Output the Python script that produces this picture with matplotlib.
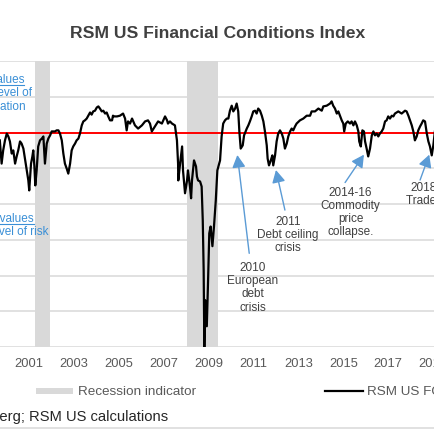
import matplotlib
matplotlib.use("Agg")
import matplotlib.pyplot as plt
from matplotlib.lines import Line2D
from matplotlib.patches import Rectangle

plt.rcParams["font.family"] = ["Liberation Sans", "DejaVu Sans"]

# ---------------------------------------------------------------------------
# Data: RSM US FCI, decimal year vs index value
# ---------------------------------------------------------------------------

fci_years = [
    1999.70, 1999.78, 1999.85, 1999.93, 2000.01, 2000.08, 2000.15, 2000.23, 2000.30, 2000.38,
    2000.45, 2000.52, 2000.60, 2000.67, 2000.75, 2000.82, 2000.90, 2000.97, 2001.01, 2001.09,
    2001.15, 2001.19, 2001.24, 2001.28, 2001.34, 2001.41, 2001.49, 2001.57, 2001.64, 2001.71,
    2001.79, 2001.86, 2001.94, 2002.01, 2002.08, 2002.16, 2002.23, 2002.31, 2002.38, 2002.46,
    2002.53, 2002.60, 2002.68, 2002.75, 2002.83, 2002.90, 2002.97, 2003.05, 2003.12, 2003.20,
    2003.27, 2003.35, 2003.42, 2003.49, 2003.57, 2003.64, 2003.72, 2003.79, 2003.86, 2003.94,
    2004.02, 2004.09, 2004.16, 2004.24, 2004.31, 2004.39, 2004.46, 2004.53, 2004.61,
    2004.70, 2004.74, 2004.80, 2004.92, 2005.05, 2005.19, 2005.28, 2005.35, 2005.41, 2005.50,
    2005.59, 2005.72, 2005.86, 2006.03, 2006.17, 2006.30, 2006.39, 2006.47, 2006.61, 2006.75,
    2006.92, 2007.06, 2007.15, 2007.19, 2007.28, 2007.37, 2007.50, 2007.59, 2007.64, 2007.65,
    2007.73, 2007.82, 2007.86, 2007.95, 2008.04, 2008.08, 2008.17, 2008.22, 2008.26, 2008.35,
    2008.44, 2008.48, 2008.53, 2008.62, 2008.69, 2008.74, 2008.78, 2008.81, 2008.85, 2008.92,
    2008.97, 2009.03, 2009.09, 2009.17, 2009.24, 2009.32, 2009.39, 2009.51, 2009.58, 2009.65,
    2009.73, 2009.81, 2009.88, 2009.95, 2010.03, 2010.10, 2010.18, 2010.25, 2010.32, 2010.37,
    2010.43, 2010.52, 2010.58, 2010.70, 2010.77, 2010.84, 2010.92, 2010.99, 2011.07, 2011.14,
    2011.21, 2011.29, 2011.37, 2011.44, 2011.51, 2011.59, 2011.63, 2011.69, 2011.77, 2011.84,
    2011.88, 2011.96, 2012.03, 2012.10, 2012.18, 2012.26, 2012.33, 2012.40, 2012.48, 2012.55,
    2012.63, 2012.70, 2012.77, 2012.85, 2012.92, 2013.07, 2013.22, 2013.37, 2013.52, 2013.59,
    2013.74, 2013.89, 2014.04, 2014.11, 2014.26, 2014.41, 2014.48, 2014.55, 2014.63, 2014.71,
    2014.78, 2014.85, 2014.93, 2015.00, 2015.04, 2015.11, 2015.20, 2015.30, 2015.37, 2015.45,
    2015.52, 2015.60, 2015.67, 2015.71, 2015.78, 2015.85, 2015.92, 2015.97, 2016.04, 2016.11,
    2016.19, 2016.27, 2016.34, 2016.41, 2016.49, 2016.56, 2016.63, 2016.71, 2016.78, 2016.86,
    2016.93, 2017.00, 2017.08, 2017.16, 2017.23, 2017.30, 2017.45, 2017.60, 2017.75, 2017.82,
    2017.90, 2017.97, 2018.05, 2018.12, 2018.19, 2018.27, 2018.34, 2018.42, 2018.49, 2018.56,
    2018.64, 2018.72, 2018.79, 2018.86, 2018.94, 2019.01, 2019.08,
]

fci_values = [
    -0.22, -0.87, -0.50, -0.22, -0.03, -0.11, -0.25, -0.59, -0.50, -0.87,
    -0.67, -0.50, -0.25, -0.31, -0.45, -0.73, -1.06, -1.34, -1.62, -0.87,
    -0.67, -0.50, -0.95, -1.48, -1.06, -0.39, -0.22, -0.17, -0.11, -0.87,
    -0.31, -0.17, -0.08, 0.03, 0.03, 0.03, 0.06, 0.06, -0.03, -0.22,
    -0.59, -0.87, -1.01, -1.15, -0.87, -0.50, -0.39, -0.31, -0.22, -0.17,
    -0.03, 0.20, 0.31, 0.34, 0.39, 0.47, 0.56, 0.50, 0.59, 0.61,
    0.70, 0.73, 0.67, 0.59, 0.61, 0.53, 0.56, 0.45, 0.34,
    0.34, 0.47, 0.45, 0.45, 0.47, 0.53, 0.39, 0.06, 0.31, 0.25,
    0.39, 0.20, 0.11, 0.20, 0.31, 0.34, 0.25, 0.03, 0.17, 0.31,
    0.25, 0.45, 0.34, 0.25, 0.31, 0.25, 0.20, -0.22, -0.87, -1.34,
    -0.87, -0.39, -1.06, -1.70, -1.34, -1.06, -1.51, -1.84, -1.34, -0.78,
    -0.95, -1.23, -1.34, -1.37, -1.51, -2.46, -3.85, -6.00, -4.69, -5.42,
    -4.30, -2.82, -2.63, -3.18, -2.63, -1.90, -1.06, -0.78, -0.11, 0.25,
    0.34, 0.39, 0.39, 0.61, 0.75, 0.59, 0.67, 0.81, 0.59, 0.03,
    -0.45, -0.36, -0.08, 0.11, 0.20, 0.31, 0.45, 0.59, 0.61, 0.53,
    0.67, 0.61, 0.47, 0.31, 0.03, -0.36, -0.73, -0.92, -0.78, -0.64,
    -0.92, -0.64, -0.25, -0.03, 0.06, -0.03, -0.17, -0.45, -0.31, -0.11,
    0.03, 0.11, 0.06, 0.17, 0.25, 0.34, 0.39, 0.47, 0.47, 0.59,
    0.59, 0.67, 0.61, 0.73, 0.75, 0.81, 0.87, 0.75, 0.67, 0.53,
    0.59, 0.47, 0.34, 0.25, 0.03, 0.25, 0.31, 0.25, 0.31, 0.20,
    0.31, 0.20, 0.03, -0.25, -0.39, 0.06, 0.03, -0.25, -0.45, -0.67,
    -0.45, -0.08, 0.03, -0.08, -0.03, -0.11, -0.03, 0.03, 0.11, 0.31,
    0.34, 0.45, 0.39, 0.47, 0.45, 0.53, 0.59, 0.53, 0.61, 0.59,
    0.47, 0.34, 0.20, 0.03, -0.22, -0.11, 0.06, 0.17, 0.25, 0.34,
    0.31, -0.03, -0.25, -0.39, -0.64, -0.36, 0.03,
]

recession_start = [2001.27, 2008.02]
recession_end = [2001.94, 2009.43]

tick_years = [2001, 2003, 2005, 2007, 2009, 2011, 2013, 2015, 2017, 2019]
grid_levels = [-6, -5, -4, -3, -2, -1, 1, 2]

# event labels: text, label centre, arrow tail, arrow tip (year, index value)
event_labels = ["2010\nEuropean\ndebt\ncrisis", "2011\nDebt ceiling\ncrisis",
                "2014-16\nCommodity\nprice\ncollapse.", "2018-19\nTrade war"]
event_text_xy = [(2010.96, -4.32), (2012.54, -2.84), (2015.32, -2.21), (2018.95, -1.71)]
event_tail_xy = [(2010.81, -3.38), (2012.40, -2.17), (2015.08, -1.40), (2018.42, -1.33)]
event_tip_xy = [(2010.28, -0.63), (2012.00, -1.05), (2015.92, -0.62), (2018.83, -0.62)]

# ---------------------------------------------------------------------------
# Layout helpers (pixels -> figure fraction)
# ---------------------------------------------------------------------------

W = H = 435.0


def fx(px):
    return px / W


def fy(py):
    return 1.0 - py / H


GRID = "#d9d9d9"
TXT = "#595959"
BLUE = "#3a8fd6"
ARROW = "#5b9bd5"

fig = plt.figure(figsize=(4.35, 4.35), dpi=100)
ax = fig.add_axes([0, fy(348), 1, fy(62) - fy(348)])
ax.set_xlim(1999.708, 2019.085)
ax.set_ylim(-6, 2)
for s in ax.spines.values():
    s.set_visible(False)
ax.set_yticks([])
ax.set_xticks(tick_years)
ax.set_xticklabels([str(y) for y in tick_years])
ax.tick_params(axis="x", length=0, pad=7.5, labelsize=9.3, labelcolor=TXT)

for s, e in zip(recession_start, recession_end):
    ax.axvspan(s, e, color=GRID, lw=0, zorder=0)
for g in grid_levels:
    ax.axhline(g, color=GRID, lw=1.1, zorder=1)
ax.axhline(0, color="#ff0000", lw=1.4, zorder=2)

ax.plot(fci_years, fci_values, color="black", lw=1.6, zorder=3)

for label, txy, tail, tip in zip(event_labels, event_text_xy, event_tail_xy, event_tip_xy):
    ax.annotate("", xy=tip, xytext=tail,
                arrowprops=dict(arrowstyle="-|>,head_length=0.75,head_width=0.4",
                                color=ARROW, lw=1.0, shrinkA=0, shrinkB=0),
                zorder=4)
    ax.text(txy[0], txy[1], label, ha="center", va="center", multialignment="center",
            fontsize=8.5, color="#404040", linespacing=1.12, zorder=5)

# title
fig.text(fx(218), fy(38.3), "RSM US Financial Conditions Index", ha="center",
         va="baseline", fontsize=12.6, fontweight="bold", color="#404040")

# side notes (cut off at the left edge in the original)
notes = [("Positive values", 24.5, 80), ("indicate level of", 31.7, 93), ("speculation", 26.7, 107),
         ("Negative values", 34.0, 219), ("indicate level of risk", 49.0, 232)]
for txt, xr, yc in notes:
    fig.text(fx(xr), fy(yc), txt, ha="right", va="center", fontsize=8.5, color=BLUE)
for xr, yu in [(24.5, 85.5), (34.0, 224.5)]:
    fig.add_artist(Line2D([0, fx(xr)], [fy(yu), fy(yu)], color=BLUE, lw=0.8))

# legend
fig.add_artist(Rectangle((fx(36), fy(395)), fx(73) - fx(36), fy(389) - fy(395),
                         color=GRID, lw=0))
fig.text(fx(78), fy(392), "Recession indicator", ha="left", va="center",
         fontsize=9.7, color=TXT)
fig.add_artist(Line2D([fx(325), fx(363)], [fy(392), fy(392)], color="black", lw=1.6))
fig.text(fx(367), fy(392), "RSM US FCI", ha="left", va="center", fontsize=9.7, color=TXT)

# source
fig.text(fx(168), fy(417), "Source: Bloomberg; RSM US calculations", ha="right",
         va="center", fontsize=10.6, color="#262626")
fig.add_artist(Line2D([0, 1], [fy(428.5), fy(428.5)], color=GRID, lw=1.1))

fig.savefig("out.png", dpi=100)
